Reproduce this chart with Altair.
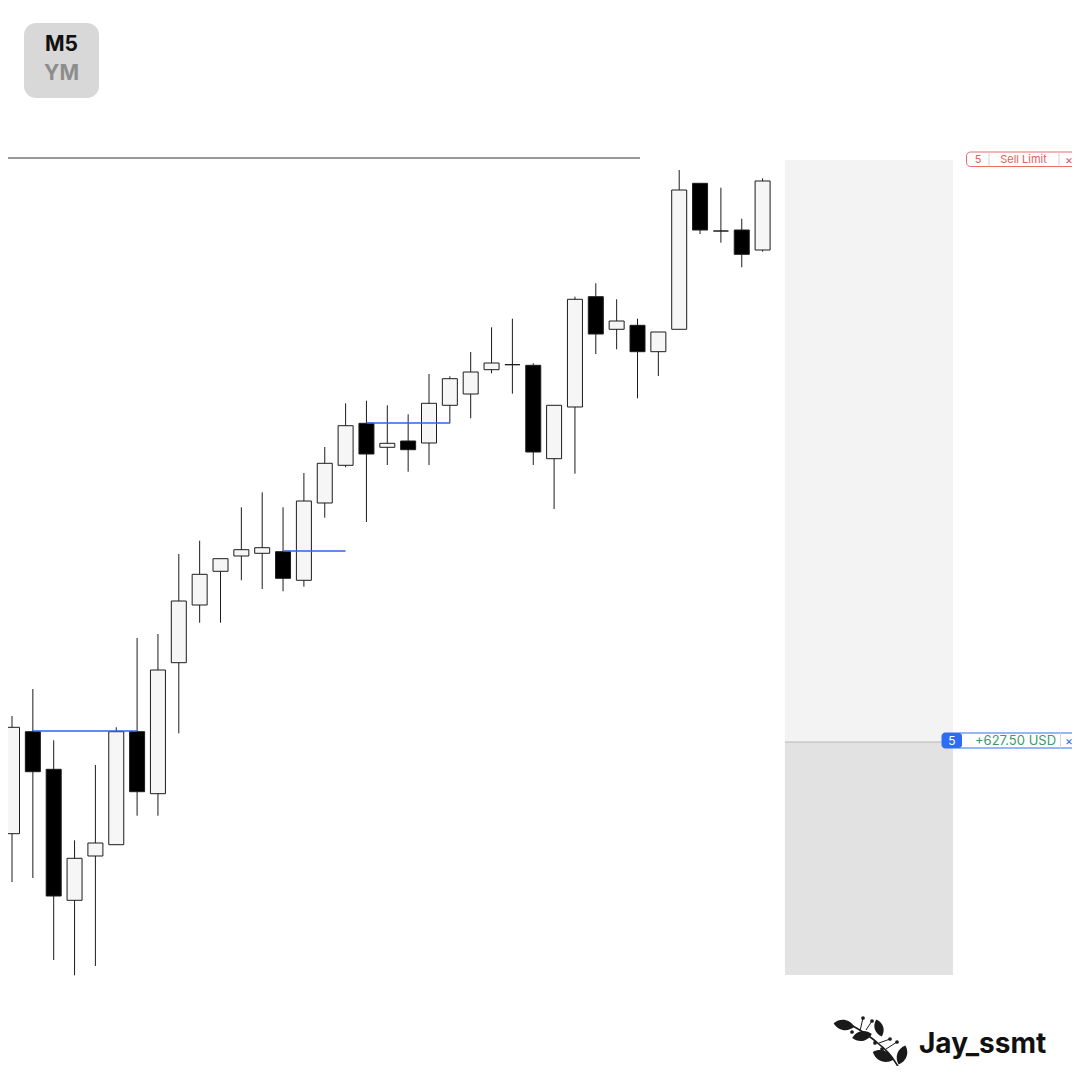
import altair as alt
import pandas as pd

# ---------------- data (YM, M5) ----------------
opens = [39166.3, 39268.3, 39230.7, 39099.7, 39144.0, 39155.3, 39268.3, 39206.3, 39337.3, 39395.0,
         39428.7, 39444.0, 39446.7, 39448.3, 39419.7, 39497.0, 39534.7, 39576.7, 39552.7, 39559.0,
         39557.0, 39594.7, 39606.0, 39630.3, 39635.3, 39634.7, 39541.3, 39593.0, 39703.3, 39670.7,
         39674.7, 39648.3, 39670.7, 39816.7, 39769.0, 39770.0, 39750.0]
highs = [39284.0, 39311.0, 39259.7, 39159.7, 39235.0, 39272.7, 39362.0, 39366.0, 39446.0, 39459.3,
         39441.3, 39492.7, 39507.7, 39492.7, 39527.0, 39553.0, 39596.7, 39599.3, 39594.7, 39585.7,
         39626.0, 39623.7, 39648.0, 39672.7, 39681.3, 39636.7, 39594.7, 39703.3, 39716.7, 39700.7,
         39681.3, 39668.0, 39830.0, 39816.7, 39812.3, 39781.3, 39821.7]
lows = [39118.0, 39122.0, 39040.0, 39024.7, 39034.0, 39155.3, 39184.3, 39184.3, 39266.7, 39377.3,
        39377.3, 39419.7, 39411.0, 39408.7, 39413.3, 39482.3, 39532.7, 39478.0, 39535.0, 39528.3,
        39535.0, 39576.7, 39581.7, 39626.7, 39606.3, 39535.0, 39491.0, 39526.3, 39646.0, 39650.7,
        39601.7, 39624.0, 39670.7, 39766.0, 39757.3, 39732.7, 39748.3]
closes = [39272.7, 39228.3, 39104.0, 39141.7, 39157.0, 39268.3, 39208.3, 39330.0, 39399.0, 39425.7,
          39441.3, 39450.3, 39452.3, 39421.7, 39499.0, 39536.7, 39574.3, 39546.0, 39556.7, 39550.3,
          39596.7, 39621.3, 39628.0, 39637.0, 39635.3, 39548.0, 39594.7, 39700.7, 39666.0, 39679.0,
          39648.3, 39668.0, 39810.0, 39770.0, 39769.0, 39745.7, 39819.0]

# liquidity levels (blue)
lvl_start = [1, 13, 17]
lvl_end = [6, 16, 21]
lvl_price = [39269.0, 39449.0, 39577.0]

# order levels
sell_limit_price = 39842.0
tp_price = 39258.0
zone_bottom = 39025.0
zone_x = [37.07, 45.13]

# ---------------- layout helpers ----------------
OFF = 8           # page margin
W, H = 1064, 1058
X0, DX = 12.0, 20.85
x_dom = [(OFF - X0) / DX, (OFF + W - X0) / DX]
y_dom = [40000.0 - (OFF + H), 40000.0 - OFF]

xs = alt.Scale(domain=x_dom, nice=False, zero=False, padding=0)
ys = alt.Scale(domain=y_dom, nice=False, zero=False, padding=0)

n = len(opens)
candles = pd.DataFrame({
    "i": list(range(n)),
    "open": opens, "high": highs, "low": lows, "close": closes,
})
candles["dir"] = ["up" if c >= o else "down" for o, c in zip(opens, closes)]
candles.loc[34, "dir"] = "down"

levels = pd.DataFrame({"a": lvl_start, "b": lvl_end, "p": lvl_price})

wicks = alt.Chart(candles).mark_rule(color="#1c1c1c", strokeWidth=1).encode(
    x=alt.X("i:Q", scale=xs, axis=None),
    y=alt.Y("low:Q", scale=ys, axis=None),
    y2="high:Q",
)
bodies = alt.Chart(candles).mark_bar(size=15, stroke="#1c1c1c", strokeWidth=1).encode(
    x=alt.X("i:Q", scale=xs, axis=None),
    y=alt.Y("open:Q", scale=ys, axis=None),
    y2="close:Q",
    fill=alt.Fill("dir:N", scale=alt.Scale(domain=["up", "down"], range=["#f6f6f6", "#000000"]), legend=None),
)
blue = alt.Chart(levels).mark_rule(color="#2f63f0", strokeWidth=1.6).encode(
    x=alt.X("a:Q", scale=xs, axis=None), x2="b:Q",
    y=alt.Y("p:Q", scale=ys, axis=None),
)


def zone_part(y1, y2, color):
    d = pd.DataFrame({"x1": [zone_x[0]], "x2": [zone_x[1]], "y1": [y1], "y2": [y2]})
    return alt.Chart(d).mark_rect(color=color).encode(
        x=alt.X("x1:Q", scale=xs, axis=None), x2="x2:Q",
        y=alt.Y("y1:Q", scale=ys, axis=None), y2="y2:Q")


zone_top = zone_part(sell_limit_price - 2, tp_price, "#f3f3f3")
zone_low = zone_part(tp_price, zone_bottom, "#e2e2e2")

tp_line = alt.Chart(pd.DataFrame({"a": [zone_x[0]], "b": [(942 - X0) / DX], "p": [tp_price]})).mark_rule(
    color="#b8b8b8", strokeWidth=1).encode(
    x=alt.X("a:Q", scale=xs, axis=None), x2="b:Q", y=alt.Y("p:Q", scale=ys, axis=None))
sell_line = alt.Chart(pd.DataFrame({"a": [x_dom[0]], "b": [(640 - X0) / DX], "p": [sell_limit_price]})).mark_rule(
    color="#333333", strokeWidth=1).encode(
    x=alt.X("a:Q", scale=xs, axis=None), x2="b:Q", y=alt.Y("p:Q", scale=ys, axis=None))


# ---------------- pixel-space overlays ----------------
def px(v):
    return v - OFF


def box(x1, x2, y1, y2, fill, stroke=None, radius=0, sw=1):
    kw = dict(fill=fill, cornerRadius=radius)
    if stroke:
        kw.update(stroke=stroke, strokeWidth=sw)
    d = pd.DataFrame({"x1": [px(x1)], "x2": [px(x2)], "y1": [px(y1)], "y2": [px(y2)]})
    return alt.Chart(d).mark_rect(**kw).encode(
        x=alt.X("x1:Q", scale=None), x2="x2:Q", y=alt.Y("y1:Q", scale=None), y2="y2:Q")


def vline(x, y1, y2, color):
    d = pd.DataFrame({"x": [px(x)], "y1": [px(y1)], "y2": [px(y2)]})
    return alt.Chart(d).mark_rule(color=color, strokeWidth=1).encode(
        x=alt.X("x:Q", scale=None), y=alt.Y("y1:Q", scale=None), y2="y2:Q")


def label(t, x, y, size, color, weight="normal", align="center", font="Inter"):
    d = pd.DataFrame({"t": [t], "x": [px(x)], "y": [px(y)]})
    return alt.Chart(d).mark_text(fontSize=size, color=color, fontWeight=weight, align=align,
                                  baseline="middle", font=font).encode(
        x=alt.X("x:Q", scale=None), y=alt.Y("y:Q", scale=None), text="t:N")


overlays = [
    # timeframe badge
    box(24, 99, 23, 98, "#d8d8d8", radius=12),
    label("M5", 61.5, 45, 21, "#111111", "bold"),
    label("YM", 61.5, 74, 21, "#8d8d8d", "bold"),
    # sell limit tag
    box(966.5, 1079.5, 152, 166.5, "#ffffff", "#ec6b6b", radius=4),
    vline(989, 152, 166.5, "#f3c4c4"),
    vline(1059, 152, 166.5, "#f3c4c4"),
    label("5", 978, 159.5, 11, "#e25c5c"),
    label("Sell Limit", 1023.5, 159.5, 11, "#e25c5c"),
    label("×", 1069, 159.5, 12, "#e25c5c"),
    # profit tag
    box(942, 1079.5, 733, 748, "#ffffff", "#2f6cf6", radius=3),
    box(942, 962, 733, 748, "#2f6cf6", radius=3),
    vline(1060.5, 733, 748, "#c9d6f6"),
    label("5", 952, 740.5, 12, "#ffffff"),
    label("+627.50 USD", 1015.5, 740.5, 13, "#3b9a6c"),
    label("×", 1069, 740.5, 12, "#2f6cf6"),
    # watermark
    label("Jay_ssmt", 919, 1045, 28, "#111111", "bold", align="left"),
]

# leafy branch icon (pixel space)
stem = pd.DataFrame({"x": [px(v) for v in [851, 866, 880, 891, 899]],
                     "y": [px(v) for v in [1025, 1034, 1045, 1056, 1068]]})
twigs = pd.DataFrame({
    "x": [px(v) for v in [860, 866, 874, 879, 886, 884]],
    "y": [px(v) for v in [1031, 1030, 1041, 1043, 1049, 1051]],
    "x2": [px(v) for v in [863, 872, 875, 890, 897, 882]],
    "y2": [px(v) for v in [1018, 1021, 1043, 1039, 1042, 1049]],
})
leaf_path = "M-1,0 C-0.45,-0.65 0.45,-0.65 1,0 C0.45,0.65 -0.45,0.65 -1,0 Z"
leaves = pd.DataFrame({
    "x": [px(v) for v in [844, 862, 879, 883, 902]],
    "y": [px(v) for v in [1025, 1036, 1028, 1056, 1055]],
    "a": [10, -12, 72, 22, 110],
    "s": [440, 400, 320, 480, 400],
})
berries = pd.DataFrame({
    "x": [px(v) for v in [863, 872, 852, 875, 890, 897, 882]],
    "y": [px(v) for v in [1018, 1021, 1032, 1043, 1039, 1042, 1049]],
})
icon = [
    alt.Chart(stem).mark_line(color="#1a1a1a", strokeWidth=1.6, interpolate="monotone").encode(
        x=alt.X("x:Q", scale=None), y=alt.Y("y:Q", scale=None)),
    alt.Chart(twigs).mark_rule(color="#1a1a1a", strokeWidth=1).encode(
        x=alt.X("x:Q", scale=None), y=alt.Y("y:Q", scale=None), x2="x2:Q", y2="y2:Q"),
    alt.Chart(leaves).mark_point(shape=leaf_path, filled=True, color="#1a1a1a", opacity=1).encode(
        x=alt.X("x:Q", scale=None), y=alt.Y("y:Q", scale=None),
        angle=alt.Angle("a:Q", scale=None), size=alt.Size("s:Q", scale=None)),
    alt.Chart(berries).mark_point(shape="circle", filled=True, color="#1a1a1a", size=14, opacity=1).encode(
        x=alt.X("x:Q", scale=None), y=alt.Y("y:Q", scale=None)),
]

chart = alt.layer(
    zone_top, zone_low, tp_line, sell_line, wicks, bodies, blue, *overlays, *icon
).properties(
    width=W, height=H, padding=0, autosize=alt.AutoSizeParams(type="none"),
    background="#ffffff",
).configure_view(stroke=None)

chart.save("out.html", embed_options={"renderer": "svg", "actions": False})
